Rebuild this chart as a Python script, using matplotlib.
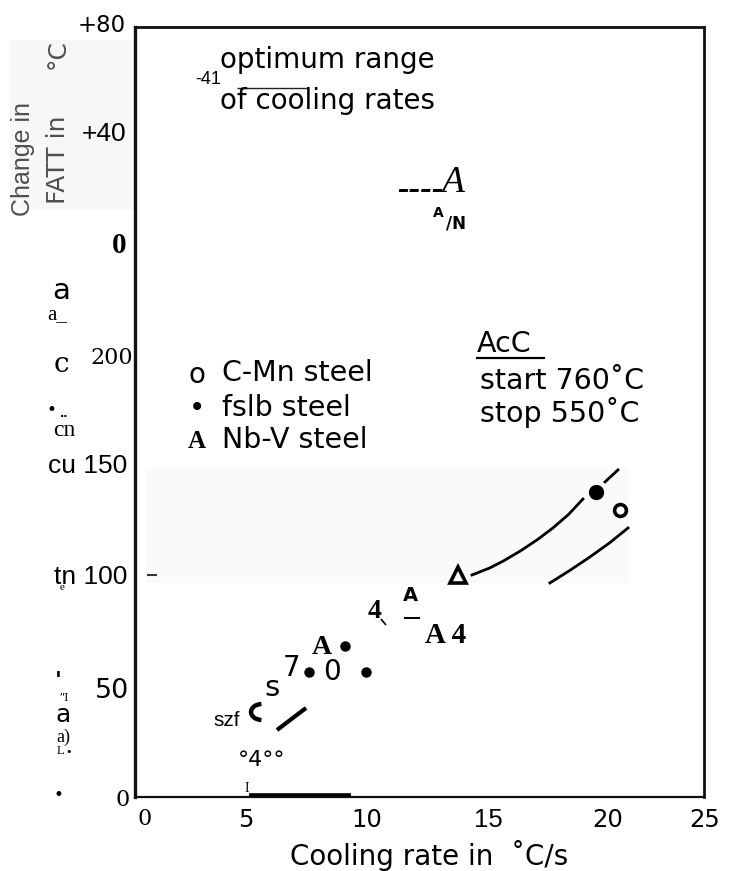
import matplotlib
matplotlib.use("Agg")
import matplotlib.pyplot as plt
from matplotlib.patches import Rectangle, Arc
from matplotlib.lines import Line2D
from matplotlib.transforms import ScaledTranslation

W, H = 729, 871

# ---------------- data ----------------
x_ticks = [0, 5, 10, 15, 20, 25]
x_tick_labels = ["0", "5", "10", "15", "20", "25"]
y_ticks = [0, 50, 100, 150, 200]
y_tick_labels = ["0", "50", "tn 100", "cu 150", "200"]
fatt_ticks = [0, 40, 80]
fatt_tick_labels = ["0", "+40", "+80"]

cmn_rate = [21.3]
cmn_value = [129]
fslb_rate = [20.25]
fslb_value = [137]
fslb_small_rate = [7.65, 9.23, 10.15]
fslb_small_value = [56, 68, 56]
nbv_rate = [14.2]
nbv_value = [100]

upper_curve_rate = [14.81, 15.6, 16.17, 16.92, 17.7, 18.37, 19.05, 19.68]
upper_curve_value = [99.8, 103.0, 106.0, 110.5, 115.8, 121.0, 127.0, 133.9]
upper_curve_ext_rate = [20.65, 21.22]
upper_curve_ext_value = [141.6, 147.0]
lower_curve_rate = [18.23, 19.1, 19.99, 20.85, 21.66]
lower_curve_value = [96.2, 101.8, 107.9, 114.2, 120.9]
optimum_range = [5.0, 9.5]

Y_TOP = (797 - 27) / 2.225

# FATT scale mapping onto the shared axis
FATT_ZERO = 249.0
FATT_SLOPE = (Y_TOP - 0.05 - FATT_ZERO) / 80.0


def to_fatt(y):
    return (y - FATT_ZERO) / FATT_SLOPE


def from_fatt(f):
    return f * FATT_SLOPE + FATT_ZERO


NARROW = ["Liberation Sans", "DejaVu Sans"]
SANS = ["DejaVu Sans"]
SERIF = ["Liberation Serif", "DejaVu Serif"]
DSERIF = ["DejaVu Serif"]

fig = plt.figure(figsize=(W / 100, H / 100), dpi=100)


def T(px, py, s, **kw):
    kw.setdefault("ha", "center")
    kw.setdefault("va", "center")
    return fig.text(px / W, 1 - py / H, s, **kw)


def L(x0, y0, x1, y1, lw, color="black"):
    fig.add_artist(Line2D([x0 / W, x1 / W], [1 - y0 / H, 1 - y1 / H],
                          transform=fig.transFigure, lw=lw, color=color,
                          solid_capstyle="butt"))


def shift(lab, dx, dy=0):
    lab.set_transform(lab.get_transform() +
                      ScaledTranslation(dx / 100, dy / 100, fig.dpi_scale_trans))


# faint scan patches
fig.add_artist(Rectangle((10 / W, 1 - 210 / H), 125 / W, 170 / H,
                         transform=fig.transFigure, color="#f7f7f7", zorder=0, lw=0))

ax = fig.add_axes([135 / W, (H - 797) / H, (704 - 135) / W, (797 - 27) / H])
ax.set_xlim(0, 25)
ax.set_ylim(0, Y_TOP)
ax.set_facecolor("none")

fig.add_artist(Rectangle((145 / W, 1 - 583 / H), (628 - 145) / W, (583 - 468) / H,
                         transform=fig.transFigure, color="#fafafa", zorder=0, lw=0))

for side, lw in (("left", 2.4), ("top", 2.0), ("right", 2.0), ("bottom", 1.6)):
    ax.spines[side].set_linewidth(lw)
    ax.spines[side].set_color("#111111")

# x ticks
ax.set_xticks(x_ticks, x_tick_labels)
ax.tick_params(axis="x", length=0, pad=8)
x_fonts = [(DSERIF, 16), (SANS, 17.5), (SANS, 17.5), (NARROW, 18.5), (SANS, 17.5), (SANS, 17.5)]
x_dx = [10, -3, 4, 12, 17, 1]
for lab, (fam, sz), dx in zip(ax.get_xticklabels(), x_fonts, x_dx):
    lab.set_family(fam)
    lab.set_fontsize(sz)
    shift(lab, dx)

# y ticks (lower scale)
ax.set_yticks(y_ticks, y_tick_labels)
ax.tick_params(axis="y", length=0, pad=4)
y_fonts = [(DSERIF, 16), (SANS, 19.5), (NARROW, 19), (NARROW, 19), (DSERIF, 16)]
y_dx = [0, 0, -2, -2, 4]
y_dy = [0, -2, 0, 0, -3]
for lab, (fam, sz), dx, dy in zip(ax.get_yticklabels(), y_fonts, y_dx, y_dy):
    lab.set_family(fam)
    lab.set_fontsize(sz)
    shift(lab, dx, dy)

# FATT scale (upper)
sec = ax.secondary_yaxis("left", functions=(to_fatt, from_fatt))
sec.set_yticks(fatt_ticks, fatt_tick_labels)
sec.tick_params(length=0, pad=5)
sec.spines["left"].set_visible(False)
f_fonts = [(SERIF, 21, "bold"), (NARROW, 19, "normal"), (SANS, 16.5, "normal")]
f_dy = [0, 4, 4]
for lab, (fam, sz, wt), dy in zip(sec.get_yticklabels(), f_fonts, f_dy):
    lab.set_family(fam)
    lab.set_fontsize(sz)
    lab.set_fontweight(wt)
    shift(lab, -2, dy)

ax.set_xlabel("Cooling rate in  \u02daC/s", fontsize=20, family=SANS)
ax.xaxis.set_label_coords((429 - 135) / 569, -(840 - 797) / 770)

# curves and markers
ax.plot(upper_curve_rate, upper_curve_value, color="black", lw=2.0, zorder=3)
ax.plot(upper_curve_ext_rate, upper_curve_ext_value, color="black", lw=2.0, zorder=3)
ax.plot(lower_curve_rate, lower_curve_value, color="black", lw=2.0, zorder=3)
ax.plot(nbv_rate, nbv_value, linestyle="none", marker="^", markersize=11,
        mfc="white", mec="black", mew=2.6, zorder=4)
ax.plot(fslb_rate, fslb_value, linestyle="none", marker="o", markersize=10,
        color="black", zorder=4)
ax.plot(cmn_rate, cmn_value, linestyle="none", marker="o", markersize=8.5,
        mfc="white", mec="black", mew=2.6, zorder=4)
ax.plot(fslb_small_rate, fslb_small_value, linestyle="none", marker="o",
        markersize=6.5, color="black", zorder=4)
ax.plot(optimum_range, [0.8, 0.8], color="black", lw=2.6, solid_capstyle="butt",
        clip_on=False, zorder=5)

# ---------------- texts ----------------
# y-axis title (scan fragment)
T(23, 159, "Change in", rotation=90, family=NARROW, fontsize=18, color="#505050")
T(58, 160, "FATT in", rotation=90, family=SANS, fontsize=18, color="#505050")
T(58, 54, "\u00b0C", rotation=90, family=SANS, fontsize=18, color="#505050")

# garbled left column
T(61, 291, "a", family=SANS, fontsize=21)
T(57, 315, "a_", family=SERIF, fontsize=15)
T(61, 365, "c", family=DSERIF, fontsize=20)
T(51, 410, "\u2022", family=SANS, fontsize=12)
T(64, 414, "..", family=SANS, fontsize=8, fontweight="bold")
T(64, 430, "cn", family=SERIF, fontsize=17)
T(62, 587, "e", family=SERIF, fontsize=8)
T(58, 681, "'", family=SANS, fontsize=16, fontweight="bold")
T(64, 698, "\u2033I", family=SERIF, fontsize=9)
T(63, 715, "a", family=SANS, fontsize=18)
T(63, 737, "a)", family=SERIF, fontsize=13)
T(60, 751, "L", family=SERIF, fontsize=9)
T(69, 752, "\u2022", family=SANS, fontsize=8)
T(58, 795, "\u2022", family=SANS, fontsize=12)

# upper annotation
T(208, 80, "-41", family=NARROW, fontsize=13)
T(220, 60, "optimum range", family=SANS, fontsize=20, ha="left")
T(220, 101, "of cooling rates", family=SANS, fontsize=20, ha="left")
L(237, 88, 308, 88, 1.0, "#222222")
T(397, 190, "----", family=["Liberation Serif"], fontsize=25, fontweight="bold",
  style="italic", ha="left")
T(441, 183, "A", family=["Liberation Serif"], fontsize=27, style="italic", ha="left")
T(438, 213, "A", family=SANS, fontsize=10, fontweight="bold")
T(456, 224, "/N", family=SANS, fontsize=12, fontweight="bold")

# legend
T(197, 375, "o", family=SANS, fontsize=20)
T(222, 373, "C-Mn steel", family=SANS, fontsize=20.5, ha="left")
T(197, 408, "\u2022", family=SANS, fontsize=20)
T(222, 408, "fslb steel", family=SANS, fontsize=20.5, ha="left")
T(197, 441, "A", family=SERIF, fontsize=18, fontweight="bold")
T(222, 440, "Nb-V steel", family=SANS, fontsize=20.5, ha="left")

# AcC block
T(477, 344, "AcC", family=SANS, fontsize=20.5, ha="left")
L(476, 358, 545, 358, 1.6)
T(480, 381, "start 760\u02daC", family=SANS, fontsize=20.5, ha="left")
T(480, 412, "stop 550\u02daC", family=SANS, fontsize=20.5, ha="left")

# lower scan fragments
L(147, 575, 157, 575, 1.5, "#333333")
T(375, 612, "4", family=SERIF, fontsize=20, fontweight="bold")
L(381, 619, 386, 625, 1.2)
T(410, 595, "A", family=SANS, fontsize=14, fontweight="bold")
L(404, 618, 420, 618, 1.4)
T(446, 635, "A 4", family=SERIF, fontsize=21, fontweight="bold")
T(322, 648, "A", family=SERIF, fontsize=20, fontweight="bold")
T(272, 688, "s", family=SANS, fontsize=21)
T(292, 668, "7", family=SANS, fontsize=20)
T(332, 672, "0", family=SANS, fontsize=20)
T(227, 720, "szf", family=NARROW, fontsize=15)
fig.add_artist(Arc((262 / W, 1 - 712 / H), 22 / W, 16 / H, theta1=95, theta2=265,
                   transform=fig.transFigure, lw=3.2, color="black"))
L(277, 730, 306, 708, 3.0)
T(262, 760, "\u00b04\u00b0\u00b0", family=SANS, fontsize=16)
T(247, 788, "I", family=SERIF, fontsize=10)

fig.savefig("out.png", dpi=100)
